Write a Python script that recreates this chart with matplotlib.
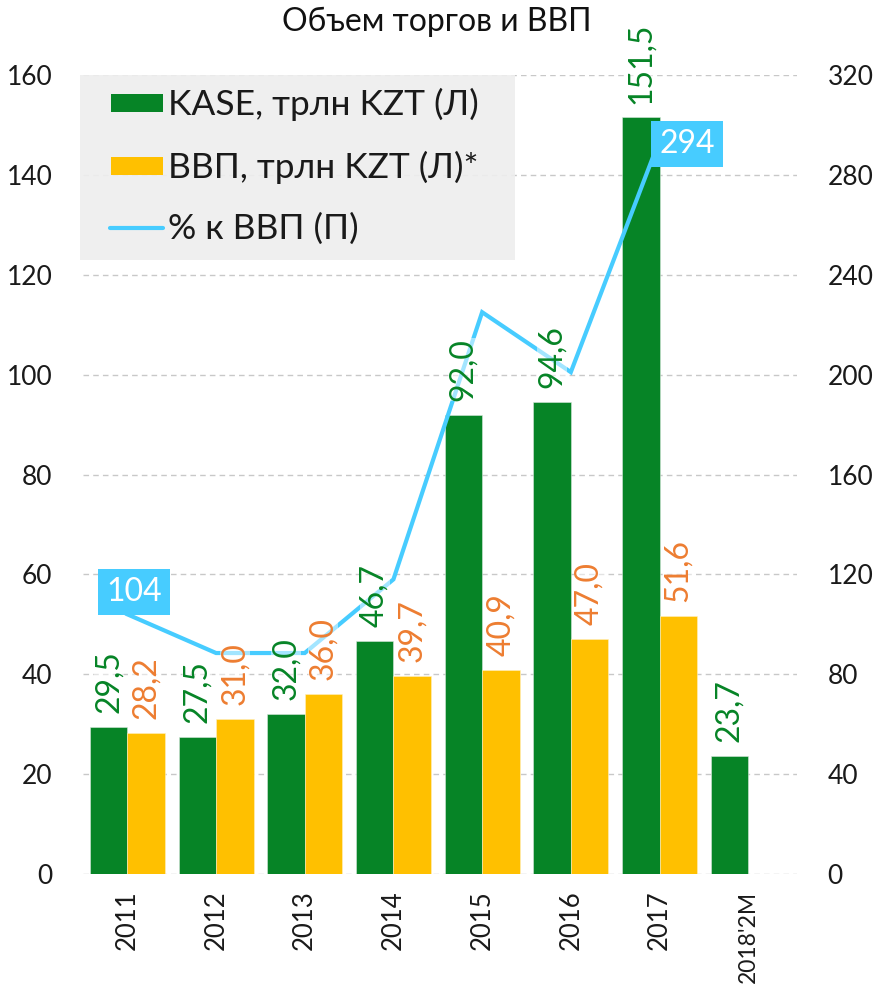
import matplotlib
matplotlib.use("Agg")
import matplotlib.pyplot as plt
import numpy as np
from matplotlib.patches import Rectangle
from matplotlib.lines import Line2D

plt.rcParams['font.family'] = ['Lato', 'DejaVu Sans']

categories = ["2011", "2012", "2013", "2014", "2015", "2016", "2017", "2018'2M"]
kase = [29.5, 27.5, 32.0, 46.7, 92.0, 94.6, 151.5, 23.7]
gdp = [28.2, 31.0, 36.0, 39.7, 40.9, 47.0, 51.6, np.nan]
pct_gdp = [104, 88.5, 88.5, 118, 225, 201, 294]
legend_labels = ["KASE, трлн KZT (Л)", "ВВП, трлн KZT (Л)*", "% к ВВП (П)"]

GREEN = "#068426"
ORANGE = "#FFC000"
ORANGE_TXT = "#ED7D31"
BLUE = "#47CCFF"
GRID = "#c8c8c8"
TXT = "#1a1a1a"

W, H = 873, 991
fig = plt.figure(figsize=(W/100, H/100), dpi=100)
ax = fig.add_axes([83/W, 1-874/H, (797-83)/W, (874-75)/H])
ax2 = ax.twinx()

x = np.arange(len(categories))
w = 0.423
ax.bar(x - w/2, kase, w, color=GREEN, zorder=2, edgecolor="#d8e8dc", linewidth=0.4)
ax.bar(x + w/2, gdp, w, color=ORANGE, zorder=2, edgecolor="#fff0c0", linewidth=0.4)

ax.set_xlim(-0.5, 7.55)
ax.set_ylim(0, 160)
ax.set_yticks(np.arange(0, 161, 20))
ax2.set_ylim(0, 320)
ax2.set_yticks(np.arange(0, 321, 40))
ax.grid(axis='y', color=GRID, linestyle=(0, (4, 3)), linewidth=1.0, zorder=0)
ax.set_axisbelow(True)
for a in (ax, ax2):
    for s in a.spines.values():
        s.set_visible(False)
ax.set_xticks(x)
ax.set_xticklabels(categories, rotation=90, fontsize=18.5, color=TXT)
ax.get_xticklabels()[-1].set_fontsize(16.5)
ax.tick_params(axis='x', length=0, pad=12)
ax.tick_params(axis='y', length=0, pad=22, labelsize=19, labelcolor=TXT)
ax2.tick_params(axis='y', length=0, pad=22, labelsize=19, labelcolor=TXT)

# line on right axis
ax2.plot(x[:len(pct_gdp)], pct_gdp, color=BLUE, linewidth=3, zorder=3, solid_joinstyle='miter')

# bar value labels (drawn on ax2 so they sit above the line)
lbl_kw = dict(rotation=90, ha='center', va='bottom', fontsize=23,
              textcoords='offset points', xycoords=ax.transData, annotation_clip=False,
              bbox=dict(facecolor='white', alpha=0.5, edgecolor='none', pad=0), zorder=5)
for i, v in enumerate(kase):
    ax2.annotate(f"{v:.1f}".replace('.', ','), (x[i] - w/2, v), xytext=(0, 10),
                 color=GREEN, **lbl_kw)
for i, v in enumerate(gdp):
    if np.isnan(v):
        continue
    ax2.annotate(f"{v:.1f}".replace('.', ','), (x[i] + w/2, v), xytext=(0, 10),
                 color=ORANGE_TXT, **lbl_kw)

# boxed labels for line
box_kw = dict(ha='center', va='center', fontsize=23, color='white',
              textcoords='offset points', annotation_clip=False,
              bbox=dict(facecolor=BLUE, edgecolor='none', pad=6), zorder=6)
ax2.annotate(f"{pct_gdp[0]:.0f}", (x[0], pct_gdp[0]), xytext=(5, 16), **box_kw)
ax2.annotate(f"{pct_gdp[-1]:.0f}", (x[6], pct_gdp[-1]), xytext=(20, -3), **box_kw)

# legend drawn manually in figure pixel coordinates
def fx(px):
    return px / W

def fy(py):
    return 1 - py / H

fig.patches.append(Rectangle((fx(80), fy(260)), fx(515) - fx(80), fy(75) - fy(260),
                             transform=fig.transFigure, facecolor="#eeeeee",
                             edgecolor='none', alpha=0.9, zorder=4))
rows = [103, 166, 228]
fig.patches.append(Rectangle((fx(111), fy(rows[0] + 9)), fx(163) - fx(111), 18/H,
                             transform=fig.transFigure, facecolor=GREEN, edgecolor='none', zorder=5))
fig.patches.append(Rectangle((fx(111), fy(rows[1] + 9)), fx(163) - fx(111), 18/H,
                             transform=fig.transFigure, facecolor=ORANGE, edgecolor='none', zorder=5))
fig.lines.append(Line2D([fx(110), fx(163)], [fy(rows[2]), fy(rows[2])],
                        transform=fig.transFigure, color=BLUE, linewidth=3,
                        solid_capstyle='round', zorder=5))
for r, lab in zip(rows, legend_labels):
    fig.text(fx(168), fy(r + 1), lab, ha='left', va='center', fontsize=25.5, color=TXT, zorder=6)

fig.text(0.5, fy(22), "Объем торгов и ВВП", ha='center', va='center', fontsize=23,
         color="#111111")

fig.savefig("out.png", dpi=100)
